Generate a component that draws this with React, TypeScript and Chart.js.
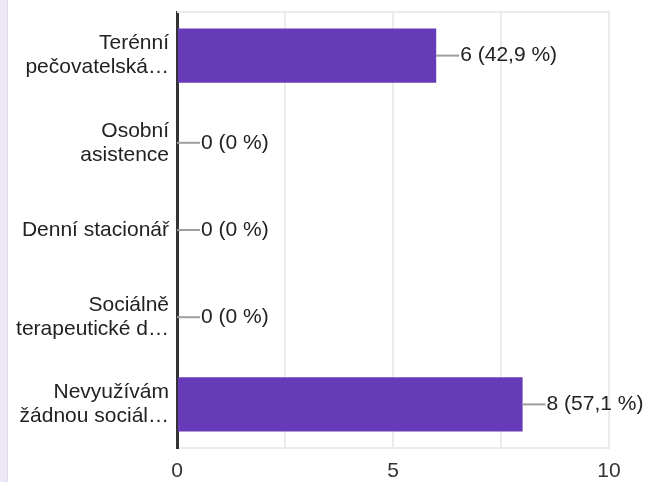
import React, { useEffect, useRef } from "react";
import { Chart, registerables } from "chart.js";

Chart.register(...registerables);

const categories: string[][] = [
  ["Terénní", "pečovatelská…"],
  ["Osobní", "asistence"],
  ["Denní stacionář"],
  ["Sociálně", "terapeutické d…"],
  ["Nevyužívám", "žádnou sociál…"],
];
const counts: number[] = [6, 0, 0, 0, 8];
const xTicksShown: number[] = [0, 5, 10];

const FONT = '"Liberation Sans", Arial, sans-serif';

function pctLabel(v: number, total: number): string {
  const p = total ? (v / total) * 100 : 0;
  if (p === 0) return "0";
  return p.toFixed(1).replace(".", ",");
}

const decorPlugin = {
  id: "decor",
  beforeDatasetsDraw(chart: any) {
    const { ctx, chartArea } = chart;
    ctx.save();
    ctx.strokeStyle = "#ebebeb";
    ctx.lineWidth = 2;
    ctx.beginPath();
    ctx.moveTo(chartArea.left, chartArea.top);
    ctx.lineTo(chartArea.right + 1, chartArea.top);
    ctx.stroke();
    ctx.restore();
  },
  afterDatasetsDraw(chart: any) {
    const { ctx } = chart;
    const meta = chart.getDatasetMeta(0);
    const data = chart.data.datasets[0].data as number[];
    const total = data.reduce((a, b) => a + b, 0);
    ctx.save();
    meta.data.forEach((bar: any, i: number) => {
      const x = bar.x;
      const y = bar.y;
      ctx.strokeStyle = "#9e9e9e";
      ctx.lineWidth = 2;
      ctx.beginPath();
      ctx.moveTo(x, y);
      ctx.lineTo(x + 23, y);
      ctx.stroke();
      ctx.fillStyle = "#222222";
      ctx.font = `21px ${FONT}`;
      ctx.textAlign = "left";
      ctx.textBaseline = "middle";
      ctx.fillText(`${data[i]} (${pctLabel(data[i], total)} %)`, x + 24, y);
    });
    ctx.restore();
  },
};

export default function App() {
  const ref = useRef<HTMLCanvasElement | null>(null);
  useEffect(() => {
    if (!ref.current) return;
    const chart = new Chart(ref.current, {
      type: "bar",
      data: {
        labels: categories,
        datasets: [
          {
            data: counts,
            backgroundColor: "#673ab7",
            borderWidth: 0,
            categoryPercentage: 1,
            barPercentage: 0.62,
          },
        ],
      },
      options: {
        indexAxis: "y",
        animation: false,
        responsive: false,
        maintainAspectRatio: false,
        layout: { padding: { top: 12, right: 39, bottom: 0, left: 0 } },
        plugins: { legend: { display: false }, tooltip: { enabled: false } },
        scales: {
          x: {
            min: 0,
            max: 10,
            ticks: {
              stepSize: 2.5,
              color: "#333333",
              font: { family: FONT, size: 21 },
              padding: 11,
              maxRotation: 0,
              callback: (v: any) => (xTicksShown.includes(Number(v)) ? String(v) : ""),
            },
            grid: { color: "#ebebeb", lineWidth: 2, drawTicks: false },
            border: { color: "#ebebeb", width: 2 },
            afterFit: (s: any) => {
              s.height = 34;
              s.paddingLeft = 0;
              s.paddingRight = 0;
            },
          },
          y: {
            ticks: {
              color: "#222222",
              font: { family: FONT, size: 21, lineHeight: 1.14 },
              padding: 8,
            },
            grid: { display: false, drawTicks: false },
            border: { color: "#333333", width: 3 },
            afterFit: (s: any) => {
              s.width = 177;
              s.paddingTop = 0;
              s.paddingBottom = 0;
            },
          },
        },
      },
      plugins: [decorPlugin],
    });
    return () => chart.destroy();
  }, []);
  return (
    <div style={{ position: "fixed", left: 0, top: 0, width: 648, height: 482, background: "#ffffff" }}>
      <div style={{ position: "absolute", left: 0, top: 0, width: 7, height: 482, background: "#ede7f6", borderRight: "1px solid #e0dbe9" }} />
      <canvas ref={ref} width={648} height={482} style={{ position: "absolute", left: 0, top: 0, width: 648, height: 482 }} />
    </div>
  );
}
